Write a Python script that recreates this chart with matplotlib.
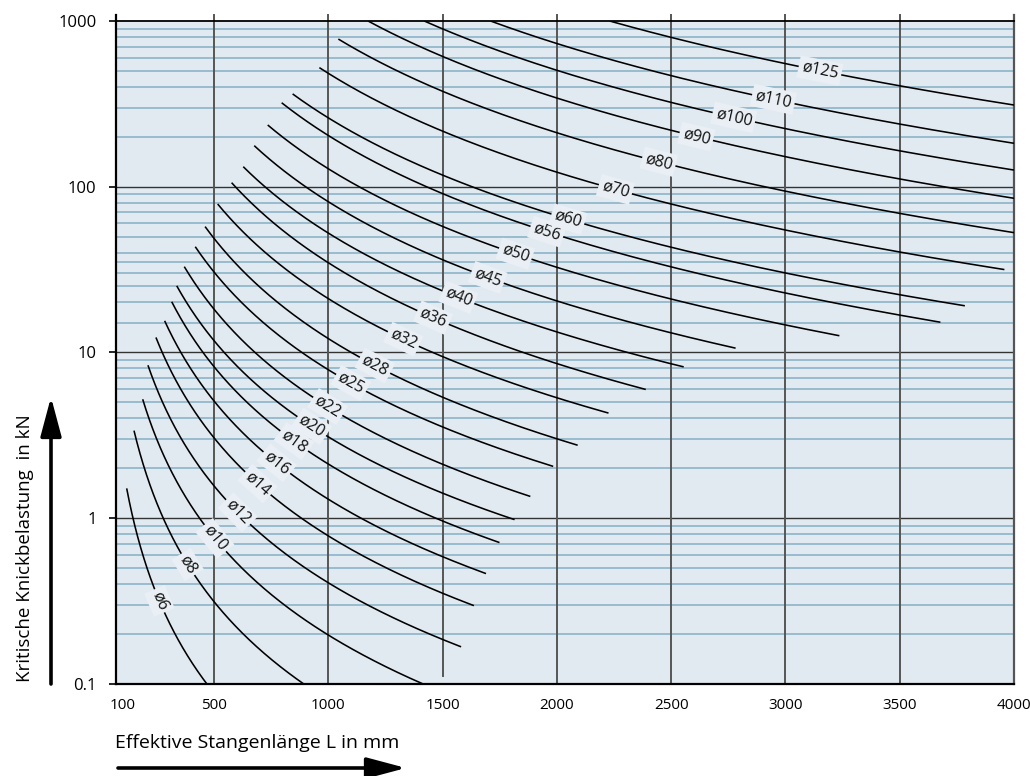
import numpy as np
import matplotlib
matplotlib.use('Agg')
import matplotlib.pyplot as plt
from matplotlib import font_manager
from matplotlib.ticker import NullLocator

# ---------------- data ----------------
diameters = [6, 8, 10, 12, 14, 16, 18, 20, 22, 25, 28, 32, 36, 40, 45, 50, 56, 60, 70, 80, 90, 100, 110, 125]
# each curve runs from (start_length, start_force) to (end_length, end_force)
start_length = [118, 150, 188, 211, 246, 284, 315, 337, 370, 418, 461, 516, 577, 628, 676, 735, 796, 844, 961, 1044, 1174, 1420, 1710, 2231]
start_force = [1.51, 3.37, 5.21, 8.36, 12.3, 15.5, 20.2, 25.2, 32.9, 43.4, 57.4, 78.6, 105.7, 132, 176.8, 235.7, 321, 363, 523, 778, 1000, 1000, 1000, 1000]
end_length = [468, 891, 1412, 1581, 1637, 1690, 1749, 1815, 1884, 1984, 2091, 2226, 2389, 2555, 2782, 3236, 3678, 3785, 3958, 4000, 4000, 4000, 4000, 4000]
end_force = [0.1, 0.1, 0.1, 0.167, 0.296, 0.462, 0.711, 0.978, 1.35, 2.05, 2.75, 4.30, 5.97, 8.17, 10.6, 12.6, 15.2, 19.1, 31.6, 52.8, 85.1, 126, 182.8, 311]

x_ticks = [100, 500, 1000, 1500, 2000, 2500, 3000, 3500, 4000]
x_tick_labels = ['100', '500', '1000', '1500', '2000', '2500', '3000', '3500', '4000']
y_ticks = [0.1, 1, 10, 100, 1000]
y_tick_labels = ['0.1', '1', '10', '100', '1000']
minor_levels = [0.2, 0.3, 0.4, 0.5, 0.6, 0.7, 0.8, 0.9,
                2, 3, 4, 5, 6, 7, 8, 9,
                15, 20, 25, 30, 35, 40, 50, 60, 70, 80, 90,
                200, 300, 400, 500, 600, 700, 800, 900]
major_levels = [1, 10, 100]
vertical_lines = [500, 1000, 1500, 2000, 2500, 3000, 3500]

x_label = 'Effektive Stangenlänge L in mm'
y_label = 'Kritische Knickbelastung  in kN'

# label placement along each curve (x position of the label centre)
label_pos = [261, 385, 504, 604, 691, 774, 850, 927, 997, 1099, 1204, 1328, 1458, 1569,
             1697, 1818, 1956, 2048, 2256, 2446, 2610, 2774, 2947, 3151]

# ---------------- fonts ----------------
def pick(fams):
    for f in fams:
        try:
            font_manager.findfont(f, fallback_to_default=False)
            return f
        except Exception:
            pass
    return 'DejaVu Sans'

FONT = pick(['Open Sans', 'Noto Sans', 'DejaVu Sans'])
plt.rcParams['font.family'] = [FONT, 'DejaVu Sans']

BG = '#e2eaf1'
W, H = 1030, 776
fig = plt.figure(figsize=(W / 100, H / 100), dpi=100)
ax_l, ax_r, ax_t, ax_b = 116, 1014, 21, 683.7
ax = fig.add_axes([ax_l / W, 1 - ax_b / H, (ax_r - ax_l) / W, (ax_b - ax_t) / H])
ax.set_facecolor(BG)
ax.set_yscale('log')
ax.set_xlim(71.25, 4000)
ax.set_ylim(0.1, 1000)

# grid
for v in minor_levels:
    ax.axhline(v, color='#93b8cc', lw=1.3, zorder=1)
for v in major_levels:
    ax.axhline(v, color='#333333', lw=1.0, zorder=2)
ext = 6 / (ax_b - ax_t)
for x in vertical_lines:
    ymin = 0.011 if x == 1500 else 0
    ax.axvline(x, ymin=ymin, ymax=1 + ext, color='#555555', lw=1.4, zorder=2, clip_on=False)
ax.axvline(4000, ymin=0, ymax=1 + ext, color='#555555', lw=1.6, zorder=2, clip_on=False)
ax.axvline(71.25, ymin=0, ymax=1 + ext, color='black', lw=1.6, zorder=3, clip_on=False)

for s in ['left', 'right']:
    ax.spines[s].set_visible(False)
ax.spines['top'].set_color('black')
ax.spines['top'].set_linewidth(1.3)
ax.spines['bottom'].set_color('black')
ax.spines['bottom'].set_linewidth(1.6)

# curves
curves = []
for d, ls, fs, le, fe in zip(diameters, start_length, start_force, end_length, end_force):
    k = np.log(fe / fs) / np.log(le / ls)
    L = np.geomspace(ls, le, 300)
    F = fs * (L / ls) ** k
    ax.plot(L, F, color='black', lw=1.15, zorder=4, solid_capstyle='butt')
    curves.append((ls, fs, k))

# inline labels
for d, (ls, fs, k), lp in zip(diameters, curves, label_pos):
    fy = fs * (lp / ls) ** k
    p1 = ax.transData.transform((lp * 0.98, fs * (lp * 0.98 / ls) ** k))
    p2 = ax.transData.transform((lp * 1.02, fs * (lp * 1.02 / ls) ** k))
    ang = np.degrees(np.arctan2(p2[1] - p1[1], p2[0] - p1[0]))
    ax.text(lp, fy, f'ø{d}', rotation=ang, rotation_mode='anchor', ha='center', va='center',
            fontsize=11.5, color='#111111', zorder=6,
            bbox=dict(boxstyle='square,pad=0.2', facecolor='#e9eff4', edgecolor='none'))

# ticks
ax.set_xticks(x_ticks)
ax.set_xticklabels(x_tick_labels)
ax.set_yticks(y_ticks)
ax.set_yticklabels(y_tick_labels)
ax.yaxis.set_minor_locator(NullLocator())
ax.tick_params(axis='x', length=0, pad=10, labelsize=11)
ax.tick_params(axis='y', which='major', length=5, width=1.2, color='black', pad=9, labelsize=12)

# axis titles with arrows
fig.text(115 / W, 1 - 743 / H, x_label, ha='left', va='center', fontsize=14)
fig.text(25 / W, 1 - 548 / H, y_label, ha='center', va='center', rotation=90, fontsize=13.5)
arrow_kw = dict(arrowstyle='-|>,head_length=1.2,head_width=0.32', lw=2.6, color='black',
                mutation_scale=20, shrinkA=0, shrinkB=0)
ax.annotate('', xy=(406 / W, 1 - 768 / H), xytext=(118 / W, 1 - 768 / H),
            xycoords='figure fraction', textcoords='figure fraction', arrowprops=arrow_kw,
            annotation_clip=False)
ax.annotate('', xy=(51 / W, 1 - 397 / H), xytext=(51 / W, 1 - 684 / H),
            xycoords='figure fraction', textcoords='figure fraction', arrowprops=arrow_kw,
            annotation_clip=False)

fig.savefig('out.png', dpi=100, facecolor='white')
